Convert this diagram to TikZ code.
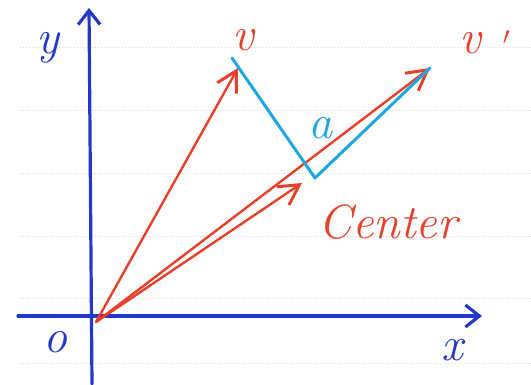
\documentclass[tikz,border=0pt]{standalone}
\usetikzlibrary{arrows.meta}
\definecolor{axis}{HTML}{2238C8}
\definecolor{vec}{HTML}{E8402A}
\definecolor{proj}{HTML}{1EA6E0}
\definecolor{rule}{HTML}{D8D8D8}
\tikzset{
  every node/.style = {font=\itshape\fontsize{48}{50}\selectfont},
  pfaxis/.style  = {draw=axis, line width=3.2pt, line cap=round,
                    -{Straight Barb[length=14pt,width=22pt,line width=3.2pt]}},
  pfvec/.style   = {draw=vec, line width=2.4pt, line cap=round,
                    -{Straight Barb[length=20pt,width=22pt,line width=3pt]}},
  pfproj/.style  = {draw=proj, line width=3pt, line cap=round, line join=round},
  pfrule/.style  = {draw=rule, line width=1pt, dotted},
  pfaxlab/.style = {text=axis},
  pfveclab/.style= {text=vec},
  pfprojlab/.style={text=proj},
}
\begin{document}
\begin{tikzpicture}[x=1pt, y=-1pt]
\useasboundingbox (0,0) rectangle (531,384);

% ruled paper
\foreach \y in {47,110,173,236,298,363}{\draw[pfrule] (20,\y) -- (531,\y);}

\coordinate (xs) at (18,316);
\coordinate (xe) at (482,316);
\coordinate (ys) at (92,384);
\coordinate (ye) at (89,8);
\coordinate (o)  at (96,322);
\coordinate (v)  at (238,68);
\coordinate (vp) at (430,68);
\coordinate (c)  at (302,183);
\coordinate (k)  at (315,178);

\draw[pfaxis] (xs) -- (xe);
\draw[pfaxis] (ys) -- (ye);

\draw[pfvec] (o) -- (v);
\draw[pfvec] (o) -- (vp);
\draw[pfvec] (o) -- (c);

\draw[pfproj] (232,58) -- (k) -- (vp);

\node[pfaxlab]   (ylab) at (48,48)   {y};
\node[pfaxlab]   (olab) at (55,342)  {o};
\node[pfaxlab]   (xlab) at (452,350) {x};
\node[pfveclab]  (vlab) at (243,40)  {v};
\node[pfveclab]  (vplab) at (485,42) {v\;\,$'$};
\node[pfprojlab] (alab) at (320,128) {a};
\node[pfveclab]  (clab) at (388,222) {Center};
\end{tikzpicture}
\end{document}
